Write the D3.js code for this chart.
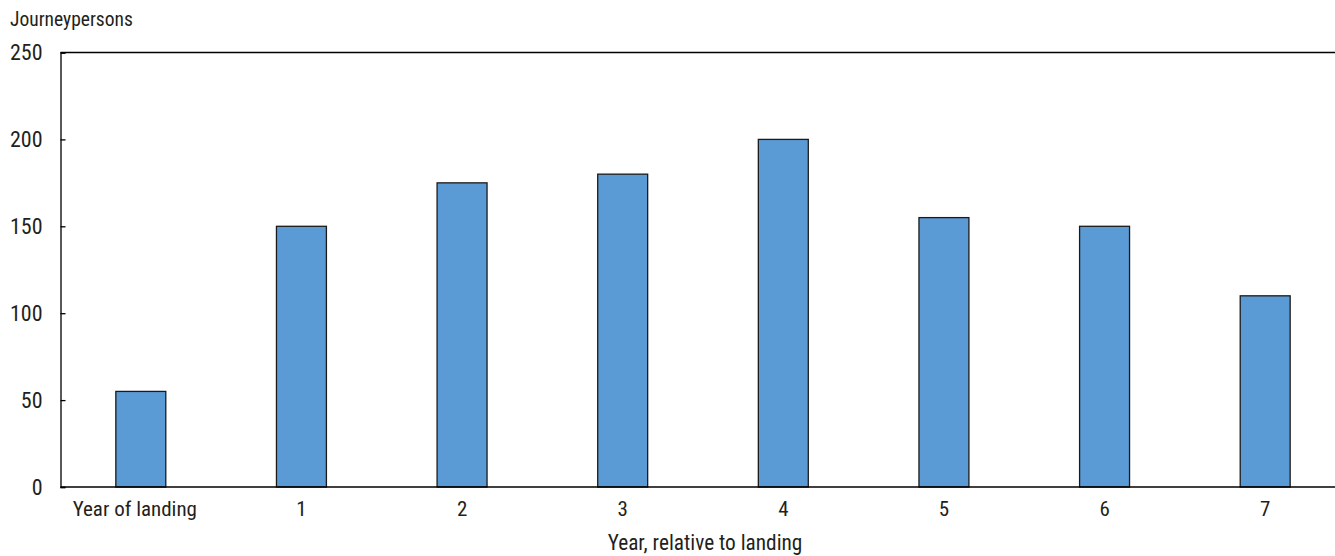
<!DOCTYPE html>
<html><head><meta charset="utf-8">
<script src="https://cdn.jsdelivr.net/npm/d3@7"></script>
<style>
body{margin:0;background:#fff;overflow:hidden}
text{font-family:"Liberation Sans Narrow","Roboto Condensed","Liberation Sans",Arial,sans-serif;fill:#231f20}
</style></head><body>
<svg id="c" width="1335" height="556"></svg>
<script>
const categories = ["Year of landing","1","2","3","4","5","6","7"];
const values = [55,150,175,180,200,155,150,110];
const yTicks = [0,50,100,150,200,250];
const yLabel = "Journeypersons";
const xTitle = "Year, relative to landing";

(function(){
const svg = d3.select("#c");
const mL = 60.5, mR = 1345.5, mT = 52.5, mB = 487;
const x = d3.scaleBand().domain(categories).range([mL,mR]).paddingInner(0.689).paddingOuter(0.3445);
const y = d3.scaleLinear().domain([0,250]).range([mB,mT]);

svg.append("g").selectAll("rect").data(values).join("rect")
  .attr("x",(d,i)=>x(categories[i]))
  .attr("y",d=>y(d))
  .attr("width",x.bandwidth())
  .attr("height",d=>y(0)-y(d))
  .attr("fill","#5b9bd5").attr("stroke","#1a1a1a").attr("stroke-width",1.3);

svg.append("line").attr("x1",mL).attr("x2",mR).attr("y1",mT).attr("y2",mT).attr("stroke","#000").attr("stroke-width",1.3);
svg.append("line").attr("x1",mL).attr("x2",mR).attr("y1",mB).attr("y2",mB).attr("stroke","#000").attr("stroke-width",1.5);

const ya = svg.append("g").attr("transform",`translate(${mL},0)`)
  .call(d3.axisLeft(y).tickValues(yTicks).tickSize(-5).tickPadding(18));
ya.select(".domain").attr("stroke","#000").attr("stroke-width",1.3);
ya.selectAll(".tick line").attr("stroke","#000").attr("stroke-width",1.3);
ya.selectAll("text").attr("font-size",22).attr("fill","#231f20");

const xa = svg.append("g").attr("transform",`translate(0,${mB})`)
  .call(d3.axisBottom(x).tickSize(0).tickPadding(14));
xa.select(".domain").remove();
xa.selectAll("text").attr("font-size",21).attr("fill","#231f20")
  .attr("dx",(d,i)=>i===0?"-6":"0");

svg.append("text").attr("x",10).attr("y",26).attr("font-size",19.5).text(yLabel);
svg.append("text").attr("x",705).attr("y",550).attr("text-anchor","middle").attr("font-size",21.3).text(xTitle);
})();
</script></body></html>
